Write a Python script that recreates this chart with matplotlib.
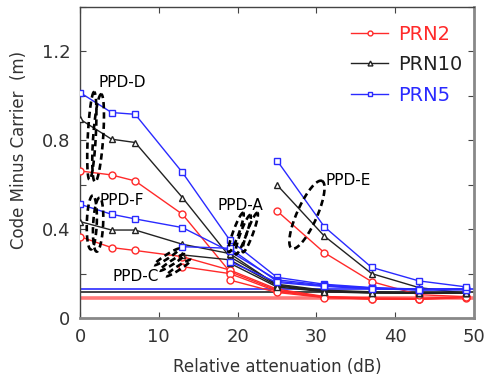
import numpy as np
import matplotlib
matplotlib.use("Agg")
import matplotlib.pyplot as plt
from matplotlib.ticker import MultipleLocator, FixedLocator

plt.rcParams['font.family'] = ['DejaVu Sans']

# Relative attenuation steps (dB)
atten = [0, 4, 7, 13, 19, 25, 31, 37, 43, 49]

# Code-minus-carrier (m) per PRN and per PPD case; each case starts at its own step
prn5 = {
    'D': [1.015, 0.925, 0.917, 0.655, 0.351, 0.183, 0.152, 0.137, 0.130, 0.132],
    'F': [0.512, 0.467, 0.446, 0.407, 0.300, 0.172, 0.148, 0.135, 0.128, 0.130],
    'C': [0.321, 0.314, 0.165, 0.145, 0.133, 0.127, 0.128],
    'A': [0.254, 0.160, 0.142, 0.132, 0.126, 0.127],
    'E': [0.709, 0.411, 0.228, 0.167, 0.140],
}
prn10 = {
    'D': [0.895, 0.805, 0.790, 0.542, 0.276, 0.152, 0.125, 0.118, 0.114, 0.115],
    'F': [0.434, 0.396, 0.396, 0.332, 0.290, 0.148, 0.122, 0.116, 0.113, 0.114],
    'C': [0.284, 0.262, 0.145, 0.120, 0.114, 0.112, 0.113],
    'A': [0.247, 0.140, 0.118, 0.112, 0.111, 0.112],
    'E': [0.599, 0.369, 0.200, 0.137, 0.111],
}
prn2 = {
    'D': [0.662, 0.644, 0.617, 0.467, 0.209, 0.125, 0.095, 0.088, 0.087, 0.094],
    'F': [0.366, 0.317, 0.304, 0.276, 0.216, 0.130, 0.097, 0.090, 0.088, 0.095],
    'C': [0.231, 0.200, 0.120, 0.093, 0.086, 0.085, 0.093],
    'A': [0.171, 0.115, 0.092, 0.085, 0.084, 0.092],
    'E': [0.482, 0.294, 0.164, 0.105, 0.096],
}
# Unattenuated reference level per PRN
ref_level = {'PRN2': 0.088, 'PRN10': 0.116, 'PRN5': 0.131}

prn_names = ['PRN2', 'PRN10', 'PRN5']
prn_data = {'PRN2': prn2, 'PRN10': prn10, 'PRN5': prn5}
colors = {'PRN2': '#ff2a2a', 'PRN10': '#222222', 'PRN5': '#2a2aff'}
markers = {'PRN2': 'o', 'PRN10': '^', 'PRN5': 's'}

fig = plt.figure(figsize=(4.84, 3.78), dpi=100)
ax = fig.add_axes([80 / 484, 60 / 378, 394 / 484, 311 / 378])
ax.set_xlim(0, 50)
ax.set_ylim(0, 1.4)

# reference levels across the whole range
ref_style = {'PRN2': dict(lw=2.6, color='#ff7878'),
             'PRN10': dict(lw=1.2, color='#222222'),
             'PRN5': dict(lw=1.2, color='#2a2aff')}
for name in ['PRN2', 'PRN10', 'PRN5']:
    ax.axhline(ref_level[name], zorder=1, **ref_style[name])

handles = {}
for name in prn_names:
    for case, vals in prn_data[name].items():
        xs = atten[len(atten) - len(vals):]
        ln, = ax.plot(xs, vals, color=colors[name], marker=markers[name],
                      markersize=5, markerfacecolor='white',
                      markeredgecolor=colors[name], markeredgewidth=1.0,
                      lw=1.0, zorder=3)
        handles[name] = ln

fig.canvas.draw()
sx = ax.bbox.width / 50.0
sy = ax.bbox.height / 1.4


def dashed_ellipse(cx, cy, a_px, b_px, angle_deg):
    t = np.linspace(0, 2 * np.pi, 200)
    th = np.deg2rad(angle_deg)
    dx = a_px * np.cos(th) * np.cos(t) - b_px * np.sin(th) * np.sin(t)
    dy = a_px * np.sin(th) * np.cos(t) + b_px * np.cos(th) * np.sin(t)
    ax.plot(cx + dx / sx, cy + dy / sy, color='black', lw=1.9,
            ls=(0, (2.4, 1.5)), zorder=4)


# PPD-D
dashed_ellipse(1.5, 0.82, 44, 4, 87)
dashed_ellipse(2.3, 0.81, 44, 5, 86)
# PPD-F
dashed_ellipse(1.5, 0.43, 27, 5, 88)
dashed_ellipse(2.3, 0.42, 27, 5, 87)
# PPD-C
for cx, cy in [(11.0, 0.275), (11.7, 0.250), (12.5, 0.225)]:
    dashed_ellipse(cx, cy, 15, 2, 33)
# PPD-A
for cx, cy in [(19.8, 0.385), (20.7, 0.375), (21.6, 0.385)]:
    dashed_ellipse(cx, cy, 21, 3, 70)
# PPD-E
dashed_ellipse(28.8, 0.465, 37, 10, 66)

label_kw = dict(fontsize=11, va='center', ha='left', color='black', zorder=5)
ax.text(2.4, 1.06, 'PPD-D', **label_kw)
ax.text(2.5, 0.53, 'PPD-F', **label_kw)
ax.text(4.1, 0.185, 'PPD-C', **label_kw)
ax.text(17.5, 0.505, 'PPD-A', **label_kw)
ax.text(31.1, 0.62, 'PPD-E', **label_kw)

ax.xaxis.set_major_locator(FixedLocator([0, 10, 20, 30, 40, 50]))
ax.yaxis.set_major_locator(FixedLocator([0, 0.4, 0.8, 1.2]))
ax.yaxis.set_minor_locator(MultipleLocator(0.2))
ax.set_yticklabels(['0', '0.4', '0.8', '1.2'])
ax.tick_params(which='both', direction='in', top=True, right=True,
               labelsize=13, length=4, width=0.8, colors='#444444',
               labelcolor='#333333', pad=7)
ax.tick_params(which='minor', length=4)

for side in ['left', 'top']:
    ax.spines[side].set_color('#444444')
    ax.spines[side].set_linewidth(1.0)
for side in ['right', 'bottom']:
    ax.spines[side].set_color('#888888')
    ax.spines[side].set_linewidth(2.0)

ax.set_xlabel('Relative attenuation (dB)', fontsize=12, color='#333333',
              labelpad=9)
ax.set_ylabel('Code Minus Carrier  (m)', fontsize=12, color='#333333')
ax.yaxis.set_label_coords(-0.133, 0.54)

leg = ax.legend([handles[n] for n in prn_names], prn_names,
                loc='upper right', bbox_to_anchor=(1.015, 1.0),
                frameon=False, fontsize=14, handlelength=1.9,
                handletextpad=0.5, labelspacing=0.6, markerscale=0.7,
                labelcolor='linecolor')

fig.savefig('out.png', dpi=100)
